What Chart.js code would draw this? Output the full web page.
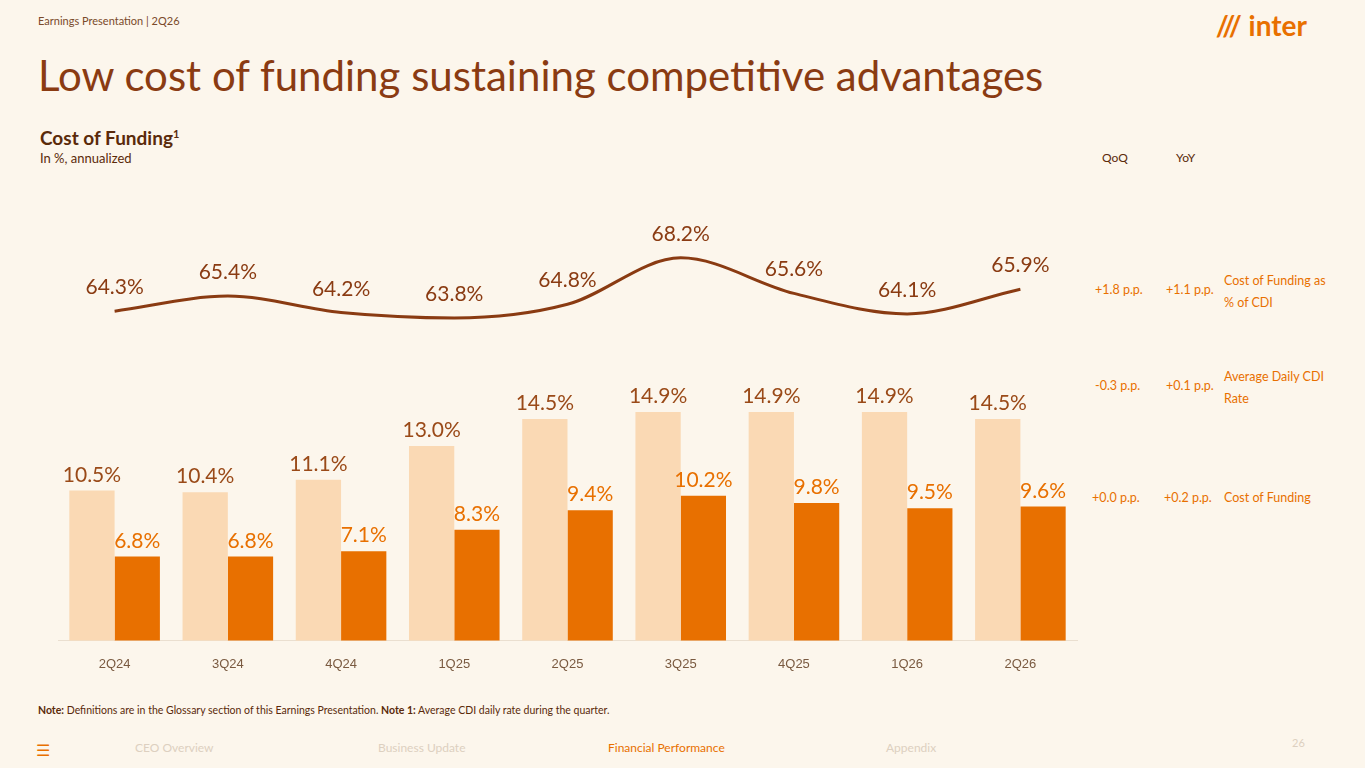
<!DOCTYPE html>
<html><head><meta charset="utf-8">
<script src="https://cdn.jsdelivr.net/npm/chart.js@4.4.0/dist/chart.umd.min.js"></script>
<style>
body{margin:0;width:1365px;height:768px;background:#fcf6ec;font-family:Lato,"Open Sans",sans-serif;position:relative;overflow:hidden;color:#8a3b12}
.abs{position:absolute}
#wrap{position:absolute;left:0;top:170px;width:1135px;height:510px}
.r{font-size:12.5px;color:#e87000}
</style></head><body>
<div class="abs" style="left:38px;top:14px;font-size:11px;color:#7a4a2a">Earnings Presentation | 2Q26</div>
<div class="abs" style="right:58px;top:8px;font-size:28px;font-weight:bold;color:#e87000">/// inter</div>
<div class="abs" style="left:38px;top:50px;font-size:42px;color:#8a3b12">Low cost of funding sustaining competitive advantages</div>
<div class="abs" style="left:40px;top:126px;font-size:19px;font-weight:bold;color:#5a2a0a">Cost of Funding<sup style="font-size:11px">1</sup></div>
<div class="abs" style="left:40px;top:150px;font-size:13px;color:#5a2a0a">In %, annualized</div>
<div class="abs" style="left:1102px;top:150px;font-size:12px;color:#5a2a0a">QoQ</div>
<div class="abs" style="left:1176px;top:150px;font-size:12px;color:#5a2a0a">YoY</div>
<div class="abs r" style="left:1095px;top:282px">+1.8 p.p.</div>
<div class="abs r" style="left:1166px;top:282px">+1.1 p.p.</div>
<div class="abs r" style="left:1224px;top:270px;line-height:22px">Cost of Funding as<br>% of CDI</div>
<div class="abs r" style="left:1095px;top:378px">-0.3 p.p.</div>
<div class="abs r" style="left:1166px;top:378px">+0.1 p.p.</div>
<div class="abs r" style="left:1224px;top:366px;line-height:22px">Average Daily CDI<br>Rate</div>
<div class="abs r" style="left:1092px;top:490px">+0.0 p.p.</div>
<div class="abs r" style="left:1164px;top:490px">+0.2 p.p.</div>
<div class="abs r" style="left:1224px;top:490px">Cost of Funding</div>
<div id="wrap"><canvas id="c"></canvas></div>
<div class="abs" style="left:38px;top:704px;font-size:10.5px;color:#5a2a0a"><b>Note:</b> Definitions are in the Glossary section of this Earnings Presentation. <b>Note 1:</b> Average CDI daily rate during the quarter.</div>
<div class="abs" style="left:36px;top:740px;font-size:16px;color:#e87000">&#9776;</div>
<div class="abs" style="left:135px;top:740px;font-size:12px;color:#ddd0c0">CEO Overview</div>
<div class="abs" style="left:378px;top:740px;font-size:12px;color:#ddd0c0">Business Update</div>
<div class="abs" style="left:608px;top:740px;font-size:12px;color:#e87000">Financial Performance</div>
<div class="abs" style="left:886px;top:740px;font-size:12px;color:#ddd0c0">Appendix</div>
<div class="abs" style="left:1292px;top:736px;font-size:11px;color:#ddd0c0">26</div>
<script>
var quarters = ['2Q24','3Q24','4Q24','1Q25','2Q25','3Q25','4Q25','1Q26','2Q26'];
var cdiRate = [10.5,10.4,11.1,13.0,14.5,14.9,14.9,14.9,14.5];
var costFunding = [6.8,6.8,7.1,8.3,9.4,10.2,9.8,9.5,9.6];
var pctOfCdi = [64.3,65.4,64.2,63.8,64.8,68.2,65.6,64.1,65.9];

var labelsPlugin = {
  id: 'labels',
  afterDatasetsDraw: function(chart) {
    var ctx = chart.ctx;
    ctx.save();
    ctx.textAlign = 'center';
    ctx.font = '21px Lato, sans-serif';
    chart.data.datasets.forEach(function(ds, i) {
      var meta = chart.getDatasetMeta(i);
      meta.data.forEach(function(el, j) {
        var v = ds.data[j].toFixed(1) + '%';
        if (ds.type === 'line') {
          ctx.fillStyle = '#8a3b12';
          ctx.fillText(v, el.x, el.y - 17);
        } else {
          ctx.fillStyle = i == 2 ? '#e87000' : '#9a4a18';
          ctx.fillText(v, el.x, el.y - 9);
        }
      });
    });
    ctx.restore();
  }
};

new Chart(document.getElementById('c'), {
  type: 'bar',
  data: {
    labels: quarters,
    datasets: [
      { type: 'line', data: pctOfCdi, borderColor: '#8a3b12', borderWidth: 3, pointRadius: 0, tension: 0.4, cubicInterpolationMode: 'monotone', yAxisID: 'y2' },
      { data: cdiRate, backgroundColor: '#fad9b4', yAxisID: 'y', barPercentage: 1, categoryPercentage: 0.8 },
      { data: costFunding, backgroundColor: '#e87000', yAxisID: 'y', barPercentage: 1, categoryPercentage: 0.8 }
    ]
  },
  options: {
    responsive: true, maintainAspectRatio: false, animation: false,
    layout: { padding: { left: 58, right: 58, top: 10, bottom: 0 } },
    plugins: { legend: { display: false }, tooltip: { enabled: false } },
    scales: {
      x: { grid: { display: false }, border: { color: '#eadfd0' }, ticks: { color: '#7a5a40', font: { size: 13 }, padding: 8 } },
      y: { display: false, min: 2.1, max: 27.9 },
      y2: { display: false, min: 40.2, max: 73.9 }
    }
  },
  plugins: [labelsPlugin]
});
</script>
</body></html>
